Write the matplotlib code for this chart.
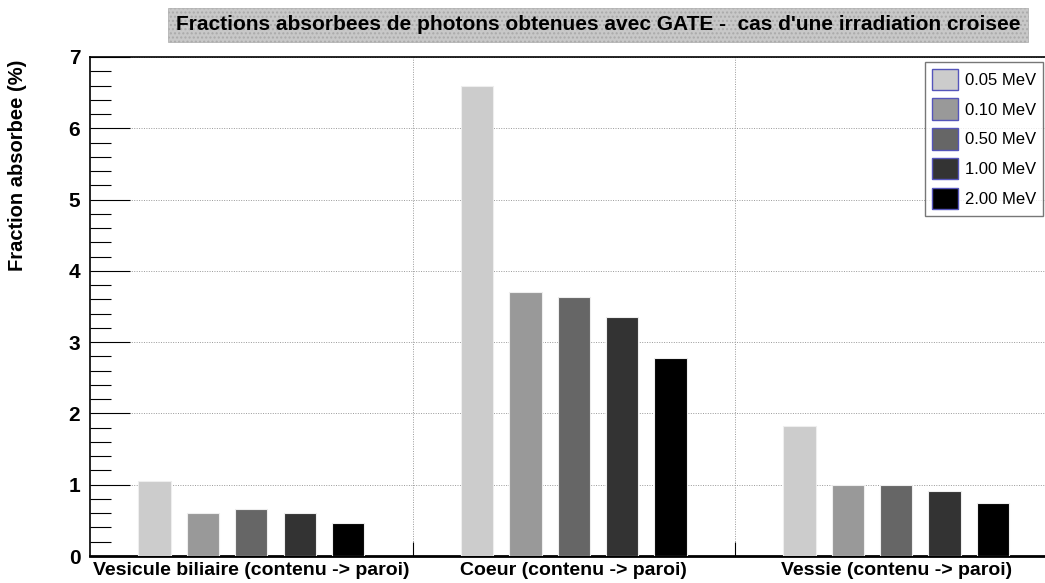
import matplotlib.pyplot as plt
from matplotlib.patches import Patch, Rectangle
from matplotlib.ticker import MultipleLocator, FixedLocator

plt.rcParams["font.family"] = ["Liberation Sans", "DejaVu Sans"]

# organes (source -> cible)
organes = ["Vesicule biliaire (contenu -> paroi)",
           "Coeur (contenu -> paroi)",
           "Vessie (contenu -> paroi)"]
energies = ["0.05 MeV", "0.10 MeV", "0.50 MeV", "1.00 MeV", "2.00 MeV"]

# fractions absorbees (%) par energie, une valeur par organe
fa_005 = [1.05, 6.60, 1.83]
fa_010 = [0.61, 3.71, 1.00]
fa_050 = [0.66, 3.63, 1.00]
fa_100 = [0.60, 3.35, 0.91]
fa_200 = [0.46, 2.78, 0.74]

series = [fa_005, fa_010, fa_050, fa_100, fa_200]
couleurs = ["#cccccc", "#999999", "#666666", "#333333", "#000000"]

W, H = 1045, 583
fig = plt.figure(figsize=(W / 100, H / 100), dpi=100)
ax = fig.add_axes([90 / W, 27 / H, 967.5 / W, 499 / H])

for i, (vals, c) in enumerate(zip(series, couleurs)):
    x = [g + 0.15 + 0.15 * i for g in range(len(organes))]
    ax.bar(x, vals, width=0.1, align="edge", color=c,
           edgecolor="#eeeeee", linewidth=0.8, zorder=3)

ax.set_xlim(0, 3)
ax.set_ylim(0, 7)

# grille pointillee
ax.xaxis.set_major_locator(FixedLocator([1, 2]))
ax.xaxis.set_minor_locator(FixedLocator([0.5, 1.5, 2.5]))
ax.set_xticklabels([], minor=False)
ax.set_xticklabels(organes, minor=True, fontsize=14, fontweight="bold")
ax.tick_params(axis="x", which="major", direction="in", length=10, width=0.8)
ax.tick_params(axis="x", which="minor", length=0, pad=4)

ax.yaxis.set_major_locator(MultipleLocator(1))
ax.yaxis.set_minor_locator(MultipleLocator(0.2))
ax.tick_params(axis="y", which="major", direction="in", length=29, width=0.8,
               labelsize=15, pad=7)
ax.tick_params(axis="y", which="minor", direction="in", length=15, width=0.8)
for lab in ax.get_yticklabels():
    lab.set_fontweight("bold")

ax.grid(True, which="major", linestyle=(0, (1, 1.5)), color="#999999",
        linewidth=0.7, zorder=0)

ax.spines["right"].set_visible(False)
ax.spines["bottom"].set_linewidth(2)
ax.spines["left"].set_linewidth(1.2)
ax.spines["top"].set_linewidth(1.2)

fig.text(18 / W, 1 - 165 / H, "Fraction absorbee (%)", rotation=90,
         ha="center", va="center", fontsize=14.5, fontweight="bold")

# cadre du titre
fig.patches.append(Rectangle((168 / W, 1 - 42 / H), 860 / W, 34 / H,
                             transform=fig.transFigure, facecolor="#c8c8c8",
                             edgecolor="#aaaaaa", hatch="....", linewidth=0.5))
fig.text(598 / W, 1 - 25 / H,
         "Fractions absorbees de photons obtenues avec GATE -  cas d'une irradiation croisee",
         ha="center", va="center", fontsize=15, fontweight="bold")

poignees = [Patch(facecolor=c, edgecolor="#5555bb", linewidth=1) for c in couleurs]
leg = fig.legend(poignees, energies, loc="upper right",
                 bbox_to_anchor=(1043 / W, 1 - 62 / H),
                 fontsize=12, frameon=True, fancybox=False,
                 handlelength=1.6, handleheight=1.6, labelspacing=0.5,
                 borderpad=0.4, handletextpad=0.4, borderaxespad=0)
leg.get_frame().set_edgecolor("#555555")
leg.get_frame().set_linewidth(1)

fig.savefig("out.png", dpi=100)
